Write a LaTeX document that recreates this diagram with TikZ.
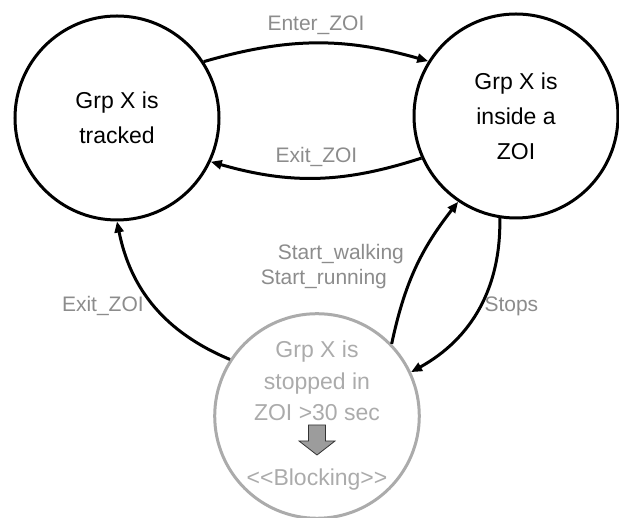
\documentclass[tikz,border=0pt]{standalone}
\usepackage{fontspec}
\setmainfont{Liberation Sans}
\usetikzlibrary{arrows.meta}

\definecolor{lblgray}{HTML}{8C8C8C}
\definecolor{stategray}{HTML}{ABABAB}
\definecolor{blkgray}{HTML}{9C9C9C}

\begin{document}
\begin{tikzpicture}[auto, x=1pt, y=1pt, line width=3pt,
    >={Triangle[length=11pt,width=9pt]},
    state/.style={circle, draw, minimum size=204pt, inner sep=0pt, align=center,
      font=\fontsize{23}{35}\selectfont},
    blocked/.style={state, draw=stategray, text=stategray,
      font=\fontsize{23}{31.5}\selectfont},
    lbl/.style={text=lblgray, inner sep=2pt, font=\fontsize{21}{25}\selectfont},
    blockarrow/.style={line width=0.8pt, draw=black!80, fill=blkgray}]
          \useasboundingbox (0,0) rectangle (619,518);

          \node[state] (trk) at (117, 400) {Grp X is\\tracked};
          \node[state] (zoi) at (516, 402) {Grp X is\\inside a\\ZOI};
          \node[blocked] (stp) at (317, 102) {Grp X is\\stopped in\\ZOI >30 sec\\[33.5pt]<\kern0pt<Blocking>\kern0pt>};
          \coordinate (blk) at (317, 78);

          \draw[->] (trk.33) to[bend left=16] node[lbl, above=5pt]{Enter\_ZOI} (zoi.148);
          \draw[->] (zoi.204) to[bend left=17] node[lbl, above=8pt]{Exit\_ZOI} (trk.-25);
          \draw[->] (stp.147) to[bend left=28] node[lbl, pos=0.45, left=13pt, yshift=7pt]{Exit\_ZOI} (trk.270);
          \draw[->] (stp.44) to[bend left=13] node[lbl, pos=0.59, left=14pt, yshift=-10pt, align=left]{\hspace*{17pt}Start\_walking\\Start\_running} (zoi.236);
          \draw[->] (zoi.261) to[bend left=31] node[lbl, pos=0.55, right=7pt, yshift=10pt]{Stops} (stp.25);

          \draw[blockarrow] ([shift={(-8.5,15)}]blk) -- ++(17,0) -- ++(0,-16) -- ++(9.5,0)
            -- ++(-18,-14) -- ++(-18,14) -- ++(9.5,0) -- cycle;
        \end{tikzpicture}
\end{document}
